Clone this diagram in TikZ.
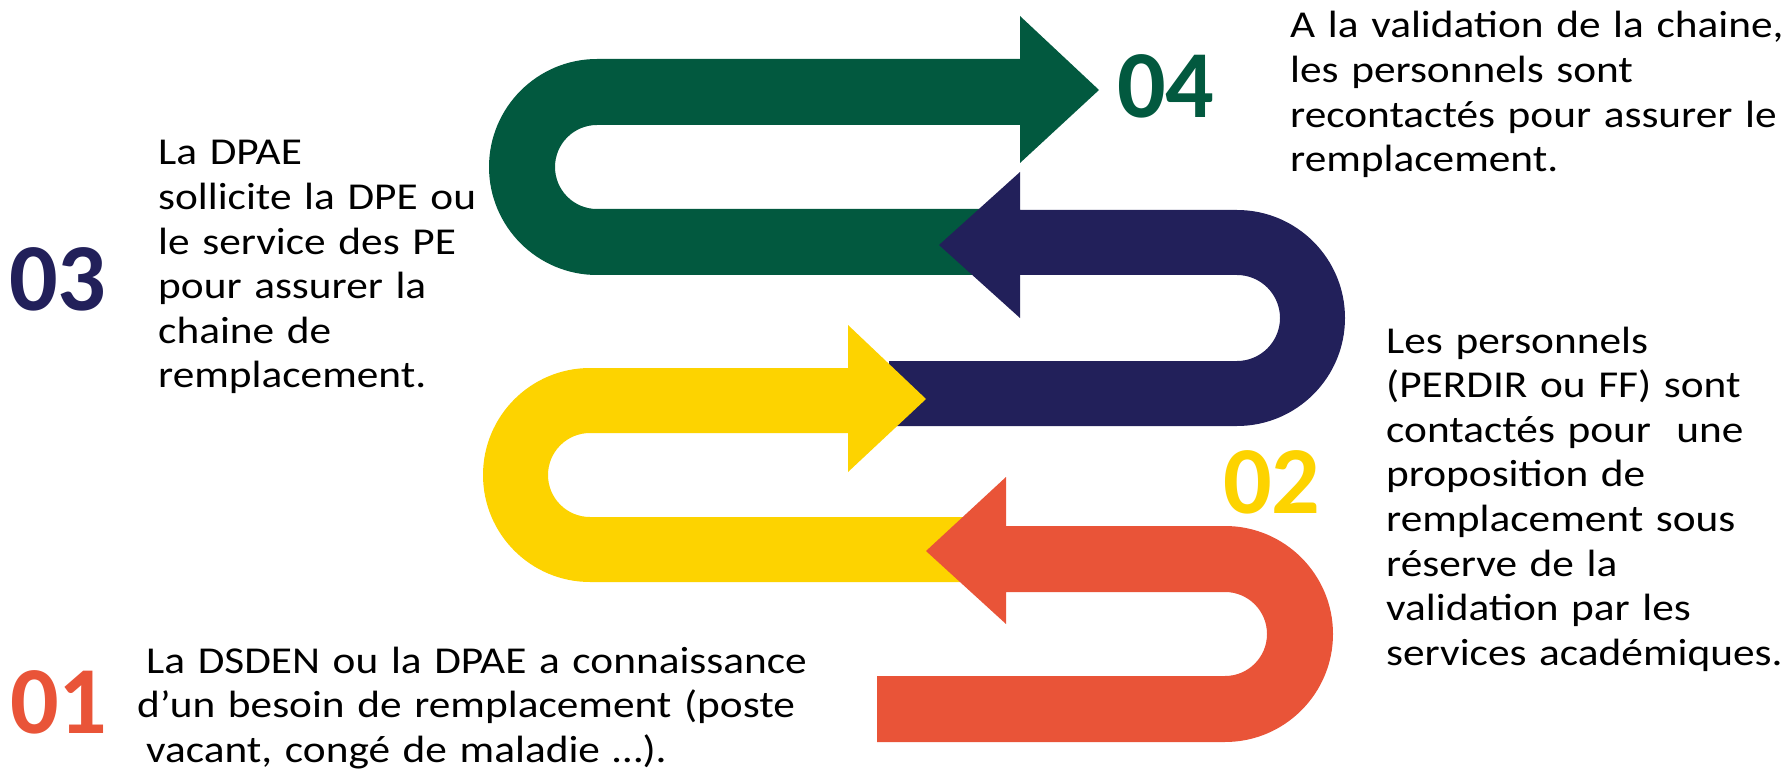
\documentclass[tikz,border=0pt]{standalone}
\usepackage{fontspec}
\setmainfont{Carlito}
\newfontfamily\bodyfont{Carlito}[FakeStretch=1.14]
\definecolor{cgreen}{HTML}{02593F}
\definecolor{cnavy}{HTML}{22205A}
\definecolor{cyellow}{HTML}{FDD300}
\definecolor{corange}{HTML}{E95438}
\tikzset{
  body/.style={inner sep=0pt, anchor=base west, align=left, text width=900pt,
    font=\bodyfont\fontsize{38}{44.6}\selectfont, text=black},
  num/.style={inner sep=0pt, anchor=base west, font=\bfseries\fontsize{96}{96}\selectfont}
}
\begin{document}
\begin{tikzpicture}[x=1pt,y=-1pt]
\useasboundingbox[fill=white] (0,0) rectangle (1792,770);
% green arrow
\fill[cgreen] (1000,275) -- (597,275) .. controls (537.4,275) and (489,226.6) .. (489,167)
  .. controls (489,107.4) and (537.4,59) .. (597,59) -- (1020,59) -- (1020,16) -- (1099,90)
  -- (1020,163) -- (1020,125) -- (597,125) .. controls (573.8,125) and (555,143.8) .. (555,167)
  .. controls (555,190.2) and (573.8,209) .. (597,209) -- (1000,209) -- cycle;
% navy arrow
\fill[cnavy] (889,426) -- (1237,426) .. controls (1296.6,426) and (1345,377.6) .. (1345,318)
  .. controls (1345,258.4) and (1296.6,210) .. (1237,210) -- (1020,210) -- (1020,172) -- (939,245)
  -- (1020,318) -- (1020,275) -- (1237,275) .. controls (1260.7,275) and (1280,294.3) .. (1280,318)
  .. controls (1280,341.7) and (1260.7,361) .. (1237,361) -- (889,361) -- cycle;
% yellow arrow
\fill[cyellow] (985,582) -- (590,582) .. controls (530.9,582) and (483,534.1) .. (483,475)
  .. controls (483,415.9) and (530.9,368) .. (590,368) -- (848,368) -- (848,325) -- (926,399)
  -- (848,472) -- (848,433) -- (590,433) .. controls (566.8,433) and (548,451.8) .. (548,475)
  .. controls (548,498.2) and (566.8,517) .. (590,517) -- (985,517) -- cycle;
% orange arrow
\fill[corange] (877,742) -- (1225,742) .. controls (1284.6,742) and (1333,693.6) .. (1333,634)
  .. controls (1333,574.4) and (1284.6,526) .. (1225,526) -- (1006,526) -- (1006,477) -- (926,551)
  -- (1006,624) -- (1006,592) -- (1225,592) .. controls (1248.2,592) and (1267,610.8) .. (1267,634)
  .. controls (1267,657.2) and (1248.2,676) .. (1225,676) -- (877,676) -- cycle;
% numbers
\node[num, text=cnavy] (n03) at (9,310) {03};
\node[num, text=cgreen] (n04) at (1117,118) {04};
\node[num, text=cyellow] (n02) at (1223,513) {02};
\node[num, text=corange] (n01) at (10,733) {01};
% texts
\node[body] (t03) at (158,165) {La DPAE\\sollicite la DPE ou\\le service des PE\\pour assurer la\\chaine de\\remplacement.};
\node[body] (t04) at (1290,38) {A la validation de la chaine,\\les personnels sont\\recontactés pour assurer le\\remplacement.};
\node[body] (t02) at (1386,353) {Les personnels\\(PERDIR ou FF) sont\\contactés pour\ \ une\\proposition de\\remplacement sous\\réserve de la\\validation par les\\services académiques.};
\node[body] (t01) at (137,673) {\hspace*{9pt}La DSDEN ou la DPAE a connaissance\\d’un besoin de remplacement (poste\\\hspace*{9pt}vacant, congé de maladie …).};
\end{tikzpicture}
\end{document}
